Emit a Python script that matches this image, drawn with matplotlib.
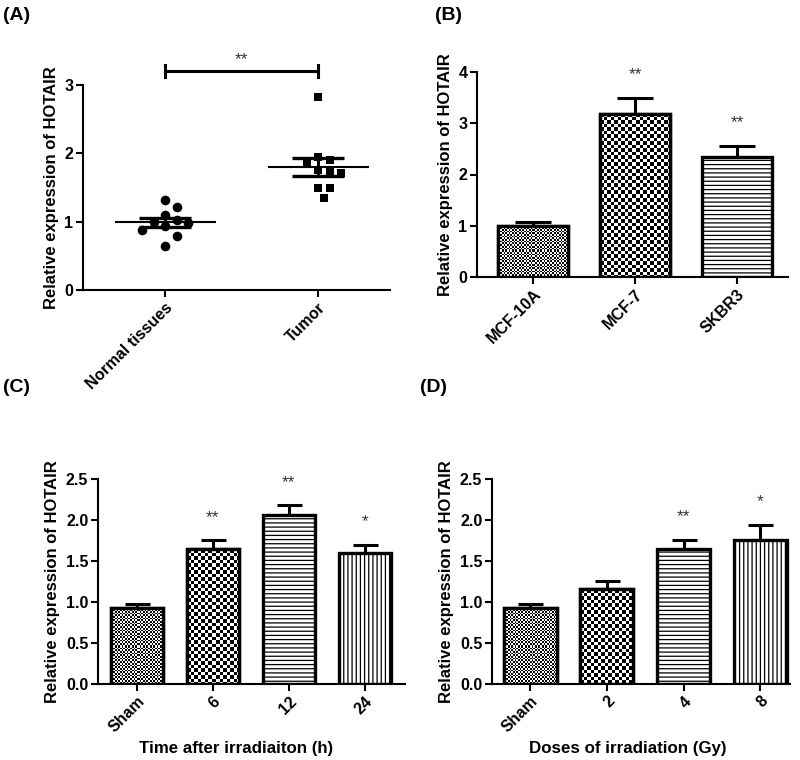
import numpy as np
import matplotlib
matplotlib.use("Agg")
import matplotlib.pyplot as plt

plt.rcParams['font.family'] = ['Liberation Sans', 'DejaVu Sans']
plt.rcParams['font.weight'] = 'bold'
plt.rcParams['hatch.linewidth'] = 0.9

# ---------------- data ----------------
a_groups = ["Normal tissues", "Tumor"]
a_normal = [1.32, 1.22, 1.10, 1.02, 1.00, 0.98, 0.93, 0.88, 0.79, 0.64]
a_tumor = [2.83, 1.95, 1.90, 1.85, 1.76, 1.73, 1.71, 1.49, 1.49, 1.34]
a_sig = "**"

b_labels = ["MCF-10A", "MCF-7", "SKBR3"]
b_values = [1.00, 3.19, 2.34]
b_err = [0.07, 0.31, 0.22]
b_stars = ["", "**", "**"]

c_labels = ["Sham", "6", "12", "24"]
c_values = [0.93, 1.645, 2.065, 1.60]
c_err = [0.05, 0.11, 0.115, 0.10]
c_stars = ["", "**", "**", "*"]
c_xlabel = "Time after irradiaiton (h)"

d_labels = ["Sham", "2", "4", "8"]
d_values = [0.93, 1.155, 1.645, 1.76]
d_err = [0.05, 0.105, 0.115, 0.18]
d_stars = ["", "", "**", "*"]
d_xlabel = "Doses of irradiation (Gy)"

ylabel = "Relative expression of HOTAIR"

# patterns: ('checker', cell_px) or ('hatch', pattern)
pat_b = [("checker", 1.7), ("checker", 3.5), ("hatch", "----")]
pat_cd = [("checker", 1.7), ("checker", 3.5), ("hatch", "----"), ("hatch", "||||")]

W, H = 800, 760
fig = plt.figure(figsize=(W / 100, H / 100), dpi=100)

TICK_FS = 11.5
STAR_FS = 12.5


def rect(l, r, b, t):
    return [l / W, 1 - b / H, (r - l) / W, (b - t) / H]


def style_axes(ax):
    for s in ("top", "right"):
        ax.spines[s].set_visible(False)
    for s in ("left", "bottom"):
        ax.spines[s].set_linewidth(1.5)
    ax.tick_params(direction="out", length=5, width=1.5, labelsize=TICK_FS, pad=2)
    for lab in ax.get_yticklabels():
        lab.set_fontweight("bold")


def draw_checker(ax, x0, x1, y0, y1, cell):
    p0 = ax.transData.transform((x0, y0))
    p1 = ax.transData.transform((x1, y1))
    w = max(int(round(p1[0] - p0[0])), 1)
    h = max(int(round(p1[1] - p0[1])), 1)
    jj, ii = np.meshgrid(np.arange(w), np.arange(h))
    arr = (np.floor(jj / cell) + np.floor(ii / cell)) % 2
    ax.imshow(arr, extent=(x0, x1, y0, y1), cmap="gray", vmin=0, vmax=1,
              interpolation="nearest", aspect="auto", zorder=1)


def bar_panel(ax, labels, values, errs, stars, patterns, xlim, ylim, yticks,
              yfmt, width, capsize):
    x = np.arange(len(labels))
    ax.set_xlim(*xlim)
    ax.set_ylim(*ylim)
    ax.errorbar(x, values, yerr=[np.zeros(len(values)), errs], fmt="none",
                ecolor="black", elinewidth=2.2, capsize=capsize, capthick=2.2,
                zorder=1.5)
    for xi, v, p in zip(x, values, patterns):
        if p[0] == "checker":
            ax.bar(xi, v, width=width, facecolor="white", edgecolor="black",
                   linewidth=2.4, zorder=0.5)
            draw_checker(ax, xi - width / 2, xi + width / 2, 0, v, p[1])
            ax.bar(xi, v, width=width, facecolor="none", edgecolor="black",
                   linewidth=2.4, zorder=2)
        else:
            ax.bar(xi, v, width=width, facecolor="white", edgecolor="black",
                   hatch=p[1], linewidth=2.4, zorder=2)
    for xi, v, e, s in zip(x, values, errs, stars):
        if s:
            ax.annotate(s, (xi, v + e), xytext=(0, 16.5), textcoords="offset points",
                        ha="center", va="center", fontsize=STAR_FS,
                        fontweight="normal", color="#333333")
    ax.set_xlim(*xlim)
    ax.set_ylim(*ylim)
    ax.set_yticks(yticks)
    ax.set_yticklabels([yfmt.format(t) for t in yticks])
    ax.set_xticks(x)
    ax.set_xticklabels(labels, rotation=45, ha="right", rotation_mode="anchor",
                       fontweight="bold")
    style_axes(ax)
    ax.set_ylabel(ylabel, fontsize=12, fontweight="bold")


# ---------------- Panel A ----------------
axA = fig.add_axes(rect(83, 390, 290, 85))
axA.set_xlim(-0.536, 1.47)
axA.set_ylim(0, 3)
style_axes(axA)

px_per_x = 153.0
px_per_y = 205.0 / 3
gap = 11.5  # centre-to-centre spacing of swarm points (px)


def swarm(vals):
    placed = []
    offs = []
    step = gap / px_per_x
    cands = [0.0]
    for n in range(1, 12):
        cands += [n * step * 0.5, -n * step * 0.5]
    for v in vals:
        for c in cands:
            ok = True
            for (px, pv) in placed:
                dx = (c - px) * px_per_x
                dy = (v - pv) * px_per_y
                if dx * dx + dy * dy < gap * gap * 0.98:
                    ok = False
                    break
            if ok:
                placed.append((c, v))
                offs.append(c)
                break
    return np.array(offs)


for i, (vals, mk) in enumerate([(a_normal, "o"), (a_tumor, "s")]):
    vals = np.array(vals)
    offs = swarm(vals)
    axA.scatter(i + offs, vals, marker=mk, s=48 if mk == "o" else 40,
                color="black", zorder=3, linewidths=0)
    m = vals.mean()
    sem = vals.std(ddof=1) / np.sqrt(len(vals))
    axA.hlines(m, i - 0.33, i + 0.33, color="black", lw=1.5, zorder=4)
    axA.errorbar(i, m, yerr=sem, fmt="none", ecolor="black", elinewidth=2.2,
                 capsize=19, capthick=2.4, zorder=4)

sig_y = 3.2
axA.plot([0, 1], [sig_y, sig_y], color="black", lw=2.2, clip_on=False)
for xx in (0, 1):
    axA.plot([xx, xx], [sig_y - 0.09, sig_y + 0.09], color="black", lw=2.2,
             clip_on=False)
axA.text(0.5, sig_y + 0.17, a_sig, ha="center", va="center", fontsize=STAR_FS,
         fontweight="normal", color="#333333")
axA.set_xticks([0, 1])
axA.set_xticklabels(a_groups, rotation=45, ha="right", rotation_mode="anchor",
                    fontweight="bold")
axA.set_yticks([0, 1, 2, 3])
axA.set_yticklabels(["0", "1", "2", "3"])
style_axes(axA)
axA.set_ylabel(ylabel, fontsize=12, fontweight="bold")

# ---------------- Panel B ----------------
axB = fig.add_axes(rect(477, 788, 277, 72))
bar_panel(axB, b_labels, b_values, b_err, b_stars, pat_b, (-0.55, 2.5), (0, 4),
          [0, 1, 2, 3, 4], "{:g}", 0.68, 13)

# ---------------- Panel C ----------------
axC = fig.add_axes(rect(98, 405, 684, 479))
bar_panel(axC, c_labels, c_values, c_err, c_stars, pat_cd, (-0.51, 3.53),
          (0, 2.5), [0, 0.5, 1.0, 1.5, 2.0, 2.5], "{:.1f}", 0.69, 9)
axC.set_xlabel(c_xlabel, fontsize=12.2, fontweight="bold", va="center")
axC.xaxis.set_label_coords(0.45, -0.313)

# ---------------- Panel D ----------------
axD = fig.add_axes(rect(492, 790, 684, 479))
bar_panel(axD, d_labels, d_values, d_err, d_stars, pat_cd, (-0.5, 3.39),
          (0, 2.5), [0, 0.5, 1.0, 1.5, 2.0, 2.5], "{:.1f}", 0.69, 9)
axD.set_xlabel(d_xlabel, fontsize=12.2, fontweight="bold", va="center")
axD.xaxis.set_label_coords(0.456, -0.313)

# panel letters
for txt, x, y in [("(A)", 3, 16), ("(B)", 435, 16), ("(C)", 3, 388), ("(D)", 420, 388)]:
    fig.text(x / W, 1 - y / H, txt, ha="left", va="center", fontsize=14,
             fontweight="bold")

fig.savefig("out.png", dpi=100)
